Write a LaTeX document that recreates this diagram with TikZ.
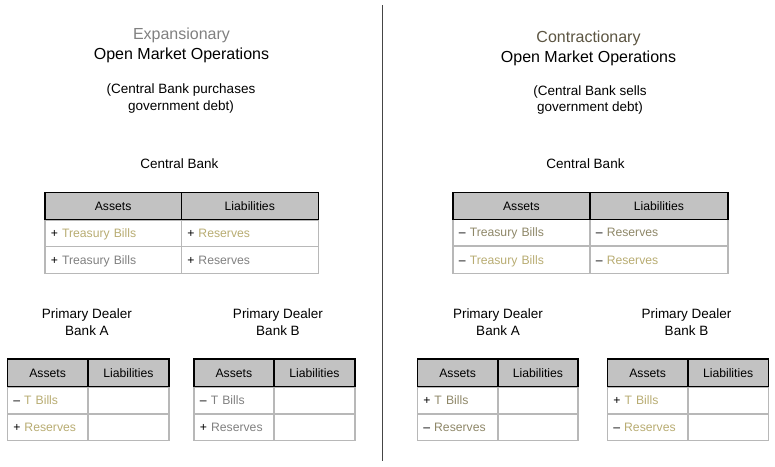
\documentclass[tikz,border=0pt]{standalone}
\usepackage{fontspec}
\setmainfont{Liberation Sans}
\definecolor{hdrgray}{HTML}{C2C2C2}
\definecolor{rulegray}{HTML}{B8B8B8}
\definecolor{txtgray}{HTML}{808080}
\definecolor{gold}{HTML}{B8AC72}
\definecolor{olive}{HTML}{8E8768}
\definecolor{darkolive}{HTML}{5C5542}
\definecolor{linedark}{HTML}{454545}
\tikzset{
  ttl/.style={align=center, font=\fontsize{16}{20}\selectfont},
  sub/.style={align=center, font=\fontsize{13.5}{16.5}\selectfont},
  hdr/.style={draw=black, fill=hdrgray, line width=1.2pt, minimum height=27.5pt,
    minimum width=#1, inner sep=0pt, text height=8.8pt, text depth=0pt,
    anchor=north west, font=\fontsize{12.2}{14}\selectfont},
  cell/.style={draw=rulegray, line width=1.2pt, minimum height=26.9pt, text width=#1,
    inner xsep=6pt, inner ysep=0pt, text height=8.8pt, text depth=0pt,
    align=left, anchor=north west, font=\fontsize{12.2}{14}\selectfont},
}
\begin{document}
\begin{tikzpicture}[x=1pt,y=-1pt]
				\useasboundingbox (0,0) rectangle (775,466);
				\coordinate (top) at (382.5,5);
				\coordinate (bot) at (382.5,461);
				\draw[linedark, line width=1.3pt] (top) -- (bot);

				% expansionary
				\node[ttl] (LT) at (181.5,45) {\textcolor{txtgray}{Expansionary}\\Open Market Operations};
				\node[sub] (LS) at (181,98.5) {(Central Bank purchases\\government debt)};
				\node[sub] (LC) at (179.5,164) {Central Bank};
				\node[cell=124.5pt] (LCa1) at (44.3,219.3) {+ \textcolor{gold}{Treasury Bills}};
				\node[cell=124.5pt] (LCa2) at (44.3,246) {+ \textcolor{txtgray}{Treasury Bills}};
				\node[cell=125pt] (LCl1) at (180.7,219.3) {+ \textcolor{gold}{Reserves}};
				\node[cell=125pt] (LCl2) at (180.7,246) {+ \textcolor{txtgray}{Reserves}};
				\node[hdr=136.4pt] (LCa) at (44.3,191.7) {Assets};
				\node[hdr=137pt] (LCl) at (180.7,191.7) {Liabilities};

				\node[sub] (LA) at (87,322) {Primary Dealer\\Bank A};
				\node[cell=68.6pt] (LAa1) at (6.7,386.5) {-- \textcolor{gold}{T Bills}};
				\node[cell=68.6pt] (LAa2) at (6.7,413.3) {+ \textcolor{gold}{Reserves}};
				\node[cell=69pt] (LAl1) at (87.3,386.5) {};
				\node[cell=69pt] (LAl2) at (87.3,413.3) {};
				\node[hdr=80.6pt] (LAa) at (6.7,358.3) {Assets};
				\node[hdr=81pt] (LAl) at (87.3,358.3) {Liabilities};

				\node[sub] (LB) at (278,322) {Primary Dealer\\Bank B};
				\node[cell=68pt] (LBa1) at (193.3,386.5) {-- \textcolor{txtgray}{T Bills}};
				\node[cell=68pt] (LBa2) at (193.3,413.3) {+ \textcolor{txtgray}{Reserves}};
				\node[cell=69pt] (LBl1) at (273.3,386.5) {};
				\node[cell=69pt] (LBl2) at (273.3,413.3) {};
				\node[hdr=80pt] (LBa) at (193.3,358.3) {Assets};
				\node[hdr=81pt] (LBl) at (273.3,358.3) {Liabilities};

				% contractionary
				\node[ttl] (RT) at (588.5,48) {\textcolor{darkolive}{Contractionary}\\Open Market Operations};
				\node[sub] (RS) at (590,100) {(Central Bank sells\\government debt)};
				\node[sub] (RC) at (585.5,164) {Central Bank};
				\node[cell=125pt] (RCa1) at (452.3,218.5) {-- \textcolor{olive}{Treasury Bills}};
				\node[cell=125pt] (RCa2) at (452.3,245.7) {-- \textcolor{gold}{Treasury Bills}};
				\node[cell=126pt] (RCl1) at (589.3,218.5) {-- \textcolor{olive}{Reserves}};
				\node[cell=126pt] (RCl2) at (589.3,245.7) {-- \textcolor{gold}{Reserves}};
				\node[hdr=137pt] (RCa) at (452.3,191.7) {Assets};
				\node[hdr=138pt] (RCl) at (589.3,191.7) {Liabilities};

				\node[sub] (RA) at (498,322) {Primary Dealer\\Bank A};
				\node[cell=68.6pt] (RAa1) at (416.7,386.5) {+ \textcolor{olive}{T Bills}};
				\node[cell=68.6pt] (RAa2) at (416.7,413.3) {-- \textcolor{olive}{Reserves}};
				\node[cell=68pt] (RAl1) at (497.3,386.5) {};
				\node[cell=68pt] (RAl2) at (497.3,413.3) {};
				\node[hdr=80.6pt] (RAa) at (416.7,358.3) {Assets};
				\node[hdr=80pt] (RAl) at (497.3,358.3) {Liabilities};

				\node[sub] (RB) at (686.5,322) {Primary Dealer\\Bank B};
				\node[cell=68.6pt] (RBa1) at (606.7,386.5) {+ \textcolor{gold}{T Bills}};
				\node[cell=68.6pt] (RBa2) at (606.7,413.3) {-- \textcolor{gold}{Reserves}};
				\node[cell=68.4pt] (RBl1) at (687.3,386.5) {};
				\node[cell=68.4pt] (RBl2) at (687.3,413.3) {};
				\node[hdr=80.6pt] (RBa) at (606.7,358.3) {Assets};
				\node[hdr=80.4pt] (RBl) at (687.3,358.3) {Liabilities};
			\end{tikzpicture}
\end{document}
